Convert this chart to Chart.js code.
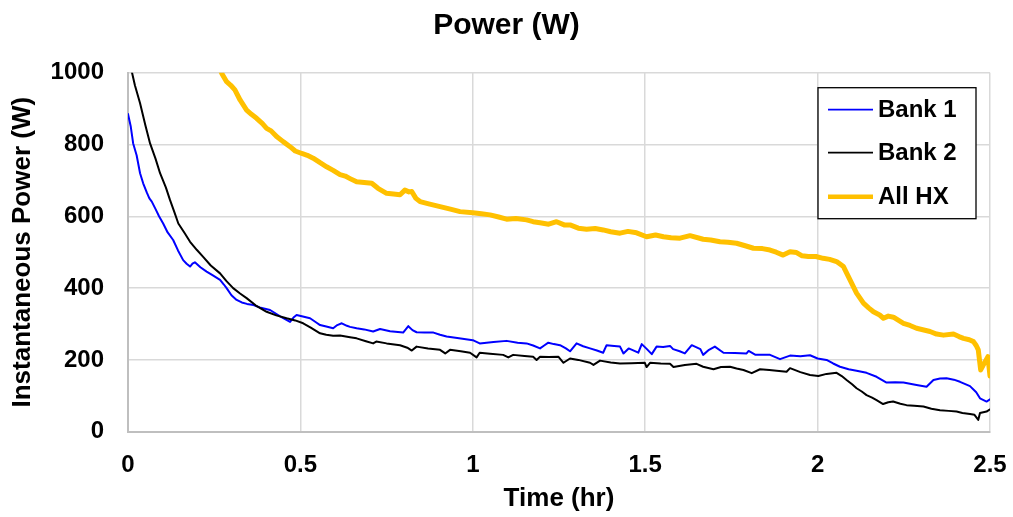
<!DOCTYPE html>
<html><head><meta charset="utf-8">
<script src="https://cdn.jsdelivr.net/npm/chart.js@4/dist/chart.umd.min.js"></script>
<style>html,body{margin:0;padding:0;background:#fff;}</style>
</head><body>
<canvas id="c" width="1013" height="517"></canvas>
<script>
const seriesNames = ['Bank 1', 'Bank 2', 'All HX'];
const seriesColors = ['#0000ff', '#000000', '#ffc000'];

const timeBank1 = [0,0.008,0.015,0.025,0.035,0.044,0.055,0.062,0.069,0.08,0.09,0.102,0.115,0.131,0.145,0.16,0.17,0.18,0.187,0.194,0.21,0.228,0.245,0.267,0.278,0.286,0.3,0.315,0.33,0.345,0.364,0.385,0.412,0.44,0.47,0.48,0.489,0.51,0.528,0.545,0.557,0.575,0.595,0.607,0.62,0.635,0.644,0.663,0.685,0.711,0.731,0.76,0.798,0.813,0.825,0.837,0.86,0.886,0.905,0.924,0.96,1.0,1.02,1.06,1.098,1.13,1.156,1.175,1.195,1.207,1.219,1.235,1.253,1.27,1.282,1.301,1.32,1.34,1.36,1.378,1.388,1.41,1.427,1.437,1.452,1.467,1.48,1.49,1.505,1.519,1.533,1.552,1.572,1.581,1.6,1.615,1.635,1.66,1.668,1.685,1.702,1.727,1.76,1.794,1.8,1.82,1.862,1.891,1.92,1.95,1.978,2.0,2.026,2.045,2.065,2.09,2.113,2.142,2.171,2.2,2.225,2.249,2.287,2.316,2.336,2.355,2.374,2.395,2.413,2.442,2.46,2.471,2.49,2.5];
const powerBank1 = [885,850,803,770,720,692,665,650,641,620,600,580,555,534,505,478,468,460,468,472,458,446,436,423,410,400,380,367,360,356,353,345,339,322,306,318,325,320,316,305,297,293,288,297,302,295,292,288,285,279,286,280,276,294,283,277,276,276,270,265,260,255,246,250,253,248,246,240,232,240,248,244,241,232,224,246,238,232,226,220,241,239,237,218,232,226,220,244,230,216,237,236,239,230,224,218,241,230,214,228,237,220,219,218,225,214,214,202,212,210,213,204,200,190,181,174,170,164,153,137,138,137,130,125,144,148,149,145,139,127,110,93,84,90];

const timeBank2 = [0,0.011,0.02,0.035,0.05,0.064,0.08,0.093,0.11,0.122,0.135,0.146,0.165,0.18,0.2,0.218,0.24,0.267,0.285,0.305,0.325,0.344,0.37,0.402,0.43,0.46,0.485,0.508,0.53,0.557,0.575,0.595,0.615,0.644,0.663,0.69,0.711,0.72,0.75,0.789,0.81,0.823,0.837,0.87,0.905,0.92,0.934,0.965,0.992,1.011,1.02,1.05,1.088,1.103,1.117,1.15,1.175,1.185,1.195,1.22,1.248,1.263,1.282,1.306,1.34,1.35,1.369,1.4,1.427,1.46,1.499,1.504,1.514,1.545,1.572,1.582,1.615,1.649,1.668,1.698,1.72,1.746,1.765,1.785,1.809,1.833,1.86,1.881,1.91,1.92,1.95,1.978,2.002,2.026,2.055,2.07,2.084,2.1,2.113,2.128,2.142,2.158,2.171,2.19,2.205,2.219,2.24,2.258,2.28,2.307,2.33,2.355,2.38,2.403,2.42,2.442,2.455,2.466,2.471,2.49,2.5];
const powerBank2 = [1030,1003,965,915,855,803,760,720,680,645,610,580,552,529,506,487,463,441,420,400,385,372,352,334,324,316,310,302,290,274,270,267,268,263,260,252,246,251,246,241,234,226,237,232,228,218,228,224,220,207,220,217,214,207,214,211,209,200,209,208,209,192,204,200,192,186,198,193,190,191,192,180,192,190,189,180,186,189,181,174,180,181,176,172,163,174,172,170,167,177,166,158,155,161,164,155,144,132,121,112,102,95,88,77,82,84,78,74,72,70,64,60,58,56,52,49,47,33,52,56,62];

const timeAllHX = [0.265,0.272,0.286,0.298,0.31,0.325,0.344,0.358,0.373,0.39,0.402,0.415,0.431,0.45,0.47,0.485,0.504,0.52,0.537,0.556,0.576,0.595,0.615,0.63,0.644,0.663,0.685,0.707,0.725,0.75,0.77,0.789,0.803,0.815,0.823,0.835,0.847,0.875,0.905,0.935,0.963,1.0,1.025,1.05,1.075,1.098,1.125,1.156,1.175,1.195,1.22,1.243,1.265,1.282,1.306,1.33,1.355,1.378,1.4,1.427,1.45,1.475,1.504,1.53,1.553,1.575,1.601,1.63,1.668,1.69,1.717,1.74,1.765,1.79,1.814,1.84,1.862,1.88,1.9,1.92,1.939,1.955,1.973,1.995,2.016,2.035,2.055,2.075,2.094,2.113,2.133,2.148,2.162,2.18,2.191,2.205,2.22,2.235,2.249,2.268,2.287,2.305,2.326,2.345,2.365,2.394,2.41,2.423,2.44,2.452,2.46,2.466,2.473,2.48,2.486,2.494,2.5];
const powerAllHX = [1015,998,975,965,952,924,896,884,873,858,845,838,822,808,794,782,775,770,762,750,738,728,716,712,705,696,694,692,678,664,662,660,673,668,669,650,641,634,627,620,613,610,607,604,598,592,594,590,585,582,578,585,576,576,567,564,566,562,557,553,558,554,543,548,543,540,539,546,536,534,529,528,525,518,511,510,506,500,492,501,499,490,488,488,483,480,474,460,423,386,358,345,334,325,316,322,319,310,302,296,288,284,279,272,269,272,265,260,256,251,240,228,172,185,195,209,155];

const xTickValues = [0, 0.5, 1, 1.5, 2, 2.5];
const xTickLabels = ['0', '0.5', '1', '1.5', '2', '2.5'];
const yTickValues = [0, 200, 400, 600, 800, 1000];
const yTickLabels = ['0', '200', '400', '600', '800', '1000'];

const FONT = 'Liberation Sans, Arial, sans-serif';
const toPoints = (xs, ys) => xs.map((x, i) => ({x: x, y: ys[i]}));

const legendBox = {
  id: 'legendBox',
  afterDraw(chart) {
    const ctx = chart.ctx, ca = chart.chartArea;
    const right = ca.right - 14, top = ca.top + 15;
    const w = 158, h = 131;
    const left = right - w;
    ctx.save();
    ctx.fillStyle = '#ffffff';
    ctx.fillRect(left, top, w, h);
    ctx.strokeStyle = '#000000';
    ctx.lineWidth = 1.3;
    ctx.strokeRect(left, top, w, h);
    const rows = [22, 65, 109];
    ctx.font = 'bold 24px ' + FONT;
    ctx.textBaseline = 'middle';
    ctx.textAlign = 'left';
    chart.data.datasets.forEach((ds, i) => {
      const y = top + rows[i];
      ctx.strokeStyle = ds.borderColor;
      ctx.lineWidth = i === 2 ? 4.5 : 1.8;
      ctx.beginPath();
      ctx.moveTo(left + 10, y);
      ctx.lineTo(left + 55, y);
      ctx.stroke();
      ctx.fillStyle = '#000000';
      ctx.fillText(ds.label, left + 60, y + 1);
    });
    ctx.restore();
  }
};

new Chart(document.getElementById('c'), {
  type: 'line',
  data: {
    datasets: [
      {label: seriesNames[0], data: toPoints(timeBank1, powerBank1), borderColor: seriesColors[0], borderWidth: 2, order: 2},
      {label: seriesNames[1], data: toPoints(timeBank2, powerBank2), borderColor: seriesColors[1], borderWidth: 2, order: 1},
      {label: seriesNames[2], data: toPoints(timeAllHX, powerAllHX), borderColor: seriesColors[2], borderWidth: 5, order: 0}
    ]
  },
  options: {
    responsive: false,
    animation: false,
    devicePixelRatio: 1,
    layout: {padding: {left: 0, right: 0, top: 0, bottom: 0}},
    elements: {point: {radius: 0}, line: {tension: 0, borderJoinStyle: 'round', borderCapStyle: 'round'}},
    datasets: {line: {clip: 0}},
    plugins: {
      legend: {display: false},
      tooltip: {enabled: false},
      title: {
        display: true,
        text: 'Power (W)',
        color: '#000000',
        font: {family: FONT, size: 30, weight: 'bold'},
        padding: {top: 8, bottom: 28.7}
      }
    },
    scales: {
      x: {
        type: 'linear',
        min: 0, max: 2.5,
        afterFit(s) { s.height = 85.3; s.paddingLeft = 0; s.paddingRight = 23; },
        afterBuildTicks(s) { s.ticks = xTickValues.map(v => ({value: v})); },
        ticks: {
          callback: (v) => xTickLabels[xTickValues.indexOf(v)],
          color: '#000000',
          font: {family: FONT, size: 24, weight: 'bold'},
          padding: 19,
          maxRotation: 0
        },
        grid: {color: '#d9d9d9', lineWidth: 1.5, drawTicks: false},
        border: {color: '#bfbfbf', width: 2},
        title: {
          display: true, text: 'Time (hr)', color: '#000000',
          font: {family: FONT, size: 26, weight: 'bold'},
          padding: {top: 0, bottom: 2.4}
        }
      },
      y: {
        type: 'linear',
        min: 0, max: 1000,
        afterFit(s) { s.width = 128; },
        afterBuildTicks(s) { s.ticks = yTickValues.map(v => ({value: v})); },
        ticks: {
          callback: (v) => yTickLabels[yTickValues.indexOf(v)],
          color: '#000000',
          font: {family: FONT, size: 24, weight: 'bold'},
          padding: 24
        },
        grid: {color: '#d9d9d9', lineWidth: 1.5, drawTicks: false},
        border: {color: '#bfbfbf', width: 2},
        title: {
          display: true, text: 'Instantaneous Power (W)', color: '#000000',
          font: {family: FONT, size: 26, weight: 'bold'},
          padding: {top: 7.4, bottom: 0}
        }
      }
    }
  },
  plugins: [legendBox]
});
</script>
</body></html>
